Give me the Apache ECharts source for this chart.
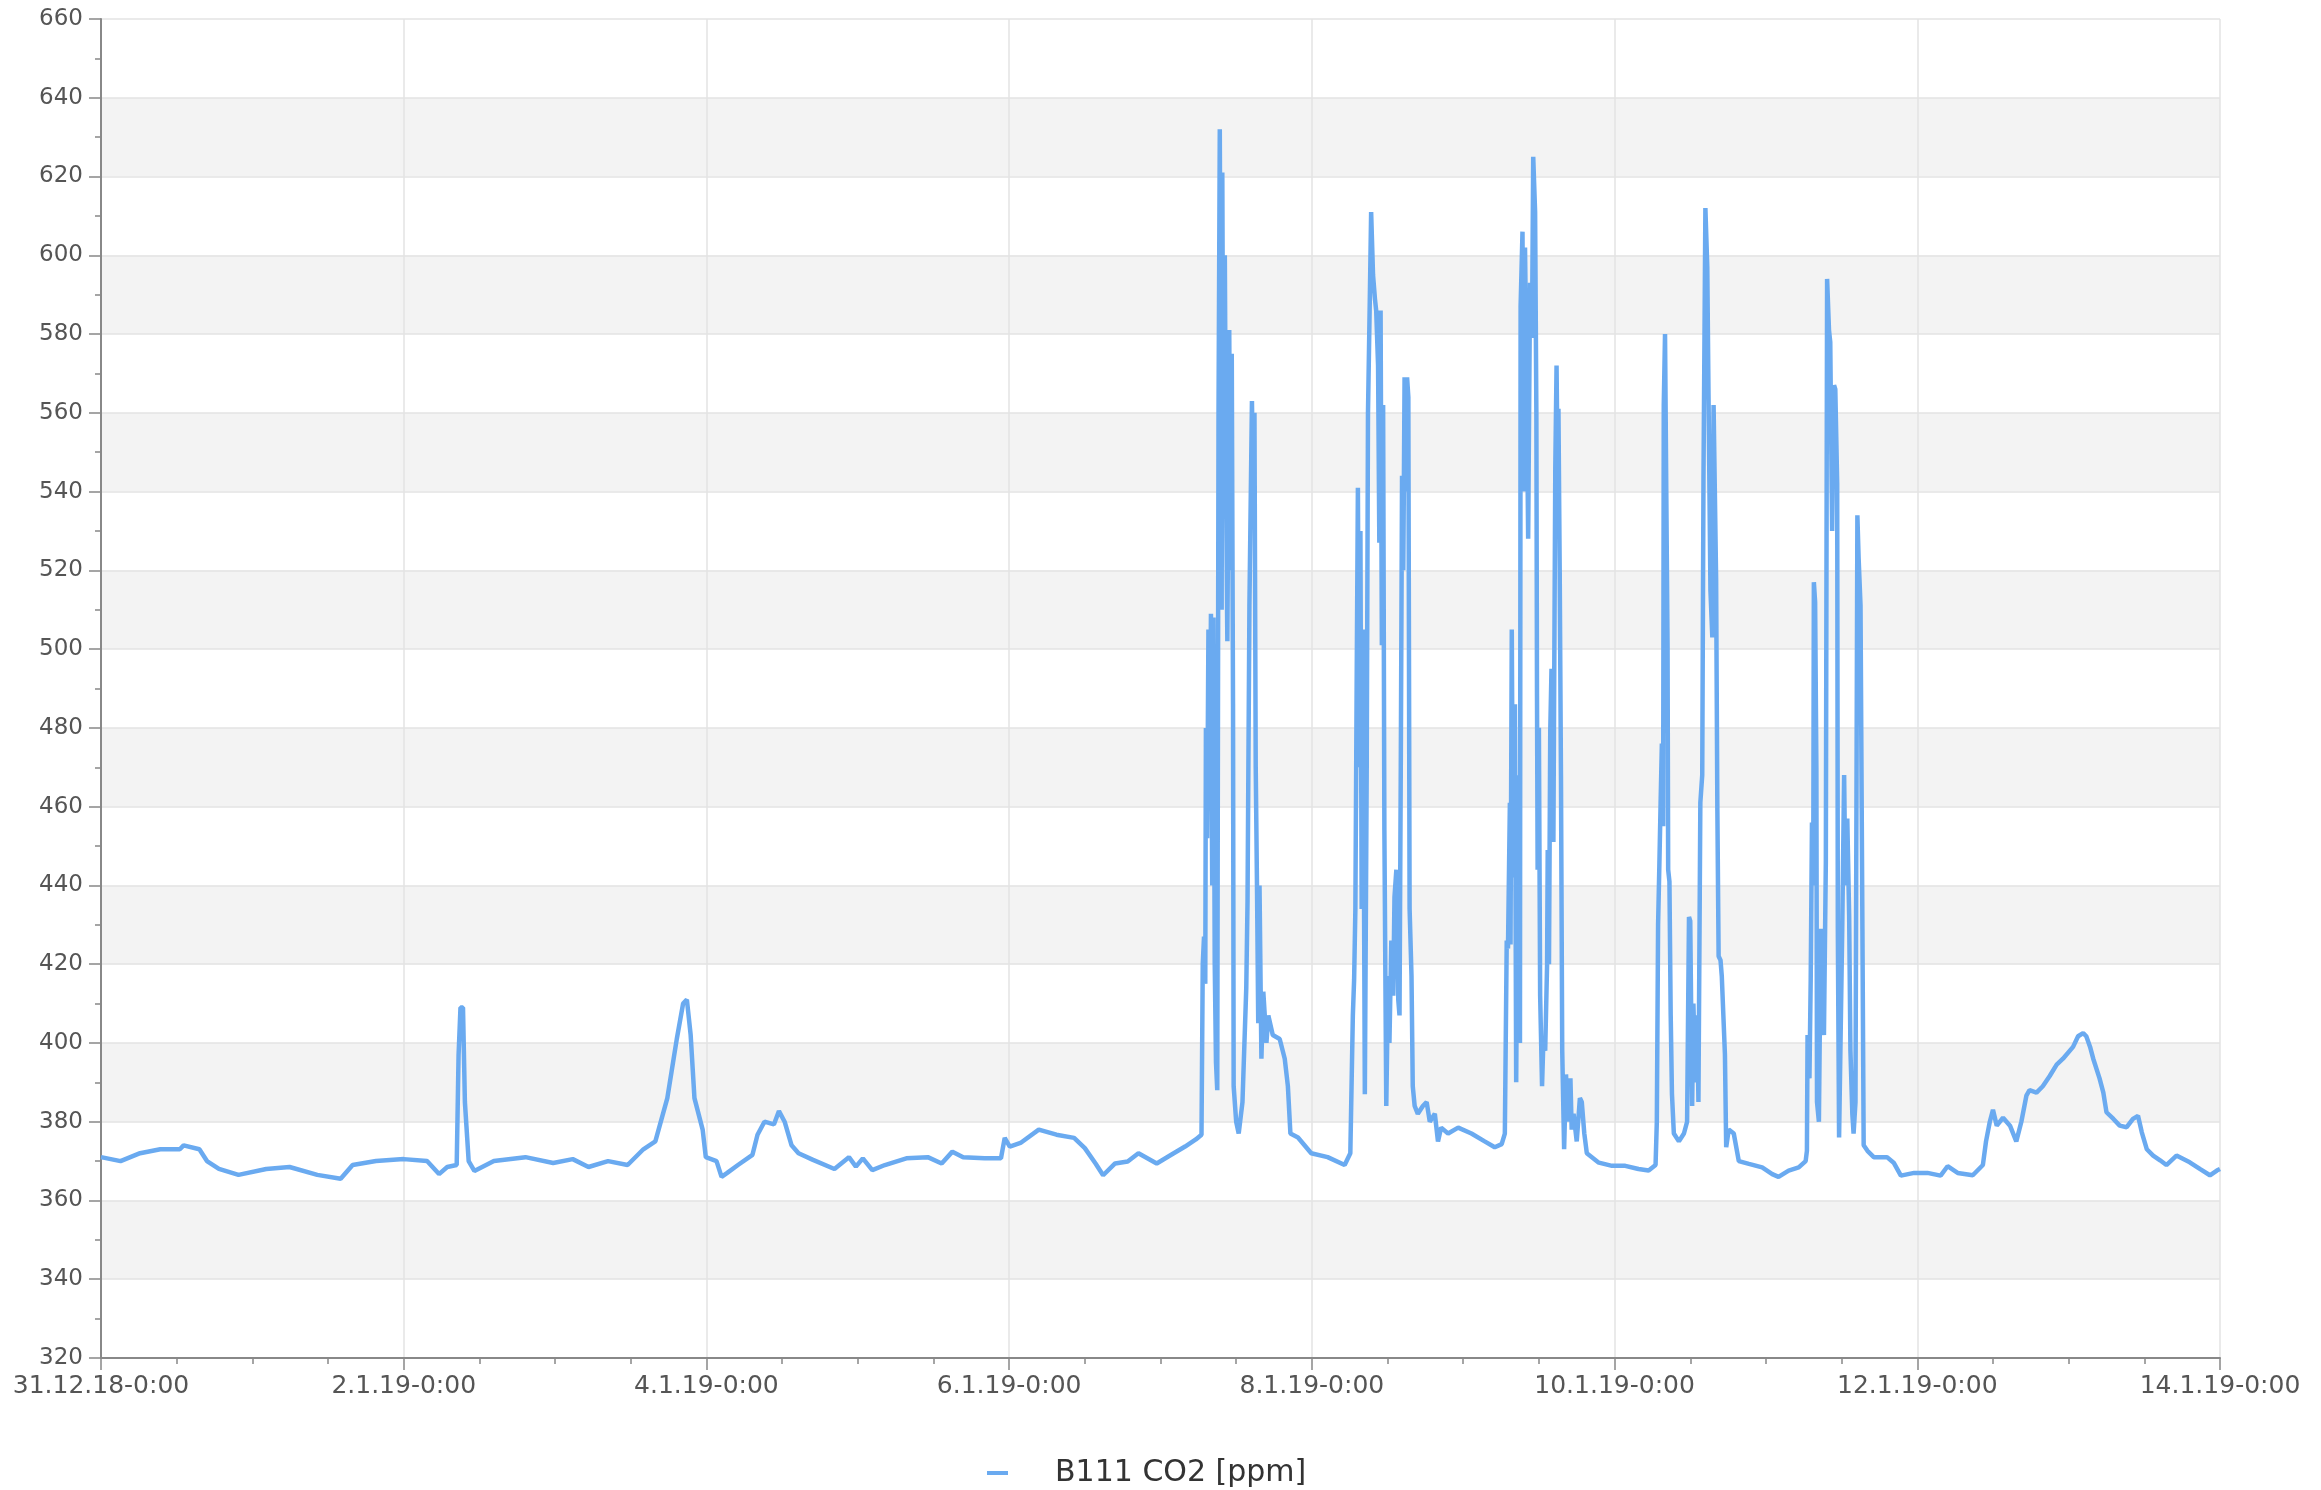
<!DOCTYPE html>
<html>
<head>
<meta charset="utf-8">
<script src="https://cdn.jsdelivr.net/npm/echarts@6/dist/echarts.min.js"></script>
<style>
html,body{margin:0;padding:0;background:#fff;}
#chart{width:2321px;height:1490px;}
</style>
</head>
<body>
<div id="chart"></div>
<script>
// Hours since 31.12.18 0:00
const hours = [
0,3.1,6.2,9.4,12.5,13.1,15.6,16.8,18.7,21.8,26.2,29.9,34.3,38,39.9,43.6,48,51.7,53.6,54.9,56.4,56.7,57.0,57.4,57.7,58.3,59.2,62.3,67.3,71.7,74.8,77.3,80.4,83.5,86,87.9,89.8,90.7,91.3,92.3,92.9,93.5,94.1,95.4,
95.9,97.6,98.4,99.3,101,103.3,104.1,105.2,106.7,107.5,108.4,109.5,110.6,112.9,116.3,118.6,119.7,120.8,122.3,124.3,127.7,131.1,133.3,135,136.7,140.1,142.7,143.3,144.1,145.8,148.7,151.5,154.3,156,157.7,158.9,160.8,162.8,164.5,167.4,169.7,171.9,173.6,174.5,
174.7,174.9,175.1,175.2,175.4,175.6,175.8,176,176.2,176.4,176.6,176.8,177,177.2,177.4,177.7,177.8,178,178.2,178.4,178.6,178.9,179.1,179.3,179.5,179.6,180,180.4,181,181.6,181.8,182.1,182.5,182.7,182.9,183.1,183.3,183.5,183.7,184,184.3,184.8,185.1,185.8,186.9,187.7,188.2,188.6,189.8,191.9,194.5,197.2,198.1,
198.5,198.7,198.9,199.1,199.3,199.5,199.7,199.9,200.1,200.4,200.7,200.9,201.2,
201.4,201.7,202,202.2,202.5,202.7,202.9,203.1,203.3,203.5,203.8,204.1,204.3,204.6,204.9,205.1,205.4,205.7,205.9,206.1,206.3,206.5,206.7,206.9,207.1,207.3,207.5,207.8,208,208.3,208.8,209.6,210.2,210.7,211.5,212,212.5,213.6,215.2,217.3,219.4,221,222.1,222.6,
222.9,223.1,223.4,223.5,223.7,223.9,224.2,224.4,224.7,225,225.1,225.4,225.6,
225.8,226.1,226.3,226.6,226.9,227.1,227.4,227.6,227.7,227.8,228,228.2,228.5,228.7,229,229.3,229.4,229.6,229.8,230,230.3,230.6,230.8,231,231.1,231.3,231.5,231.7,232,232.3,232.6,233,233.2,233.5,234,234.5,234.8,235.2,235.6,237.5,239.6,241.7,243.8,
245.4,246.5,246.7,246.9,247.1,247.3,247.5,247.7,247.8,248.0,248.2,248.4,248.5,248.7,248.9,249.1,249.4,250.2,251,251.5,251.8,252,252.3,252.5,252.8,253.1,253.3,253.6,253.9,254.1,254.4,254.7,254.9,255.2,255.5,255.7,255.9,256.1,256.3,256.5,256.8,257,257.5,257.7,258.1,258.9,259.7,261.3,263.4,265,266,267.6,269.2,270.3,
270.5,270.6,270.9,271.1,271.3,271.5,271.6,271.8,272,272.1,272.4,272.7,272.9,273.2,273.5,273.7,274,274.2,274.5,274.8,275,275.3,275.4,275.6,275.8,276.1,276.4,276.6,276.9,277.2,277.4,277.7,277.9,278.2,278.5,278.7,279,279.3,279.5,280.1,281.1,283.2,284.3,285.4,287.5,289.6,291.7,292.8,294.4,296.8,
298.4,298.9,299.5,300,300.6,301.6,302.7,303.7,304.5,305.3,305.8,306.9,307.9,309,310.1,311.1,312.7,313.5,314.3,314.8,315.4,315.9,316.9,317.5,318,319.1,320.1,321.2,322.2,323,323.6,324.4,325.4,326.5,327.5,329.1,331.2,332.8,334.4,335.5,336
];
// CO2 [ppm]
const co2 = [
371,370,372,373,373,374,373,370,368,366.5,368,368.5,366.5,365.5,369,370,370.5,370,366.7,368.5,369,397,409,409,385,370,367.5,370,371,369.5,370.5,368.5,370,369,373,375,386,395,401,410,411,402,386,378,
371,370,366,367,369,371.6,376.7,380,379.3,382.7,380,374,372,370.3,368,371,368.6,370.7,367.7,369,370.7,371,369.4,372.4,371,370.7,370.7,375.9,373.7,374.6,378,376.7,375.9,373.3,369.4,366.4,369.4,369.9,372,369.4,371.6,373.7,375.5,376.7,
420,427,415,480,452,505,470,509,440,508,420,395,388,560,632,510,621,534,600,540,502,581,520,575,486,389,380,377,385,414,436,511,563,540,560,470,440,405,440,396,413,400,407,402,401,396,389,377,376,372,371,369,372,
407,416,434,490,541,470,530,434,505,387,470,560,590,
611,595,589,586,572,527,586,501,562,454,384,417,400,426,412,437,444,411,407,470,544,520,569,540,569,564,434,417,389,384,382,384,385,380,382,375,378.5,377,378.5,377,375,373.5,374.3,377,
426,424,461,425,505,442,486,390,468,400,587,606,540,
602,562,528,593,579,625,611,560,488,444,480,412,389,400,398,420,449,420,479,495,451,546,572,540,561,520,468,398,373,392,380,391,378,382,375,386,385,377,372,369.6,368.8,368.8,368,
367.6,369,380,430,445,461,476,455,562,580,540,501,444,441,407,387,377,375,377,380,432,431,384,410,390,407,385,461,468,544,612,597,564,515,503,562,540,518,459,422,421,417,397,373.5,378,377,370,369.3,368.4,366.7,366,367.6,368.4,370,
372.6,402,391,416,456,440,517,512,470,385,380,429,429,402,446,594,581,578,530,567,566,542,429,376,376,429,468,440,457,432,398,382,377,385,534,523,511,429,374,372.6,371,371,369.5,366.3,367,367,366.3,368.7,367,366.4,
369,375,380,383,379,381,379,375,380,386.6,388,387.4,389,391.6,394.5,396,399,401.7,402.5,401.7,399,396,391,387.4,382.4,380.7,379,378.6,380.7,381.5,377.3,373,371.4,370.2,369,371.4,369.7,368,366.4,367.6,368
];
const seriesName = 'B111 CO2 [ppm]';
const startDateUTC = Date.UTC(2018, 11, 31, 0, 0);

const data = hours.map((h, i) => [h, co2[i]]);

function fmtHour(h) {
  const d = new Date(startDateUTC + h * 3600000);
  const yy = String(d.getUTCFullYear()).slice(2);
  const mm = String(d.getUTCMinutes()).padStart(2, '0');
  return d.getUTCDate() + '.' + (d.getUTCMonth() + 1) + '.' + yy + '-' + d.getUTCHours() + ':' + mm;
}

const chart = echarts.init(document.getElementById('chart'), null, {renderer: 'canvas'});
const FONT = 'DejaVu Sans';
chart.setOption({
  animation: false,
  backgroundColor: '#ffffff',
  grid: {left: 101, right: 101, top: 19, bottom: 132, containLabel: false},
  xAxis: {
    type: 'value',
    min: 0, max: 336, interval: 48,
    minorTick: {show: true, splitNumber: 4, length: 6, lineStyle: {color: '#888', width: 1.5}},
    axisLine: {show: true, lineStyle: {color: '#888', width: 2}},
    axisTick: {show: true, length: 12, lineStyle: {color: '#888', width: 1.5}},
    axisLabel: {
      formatter: v => fmtHour(v),
      color: '#555', fontFamily: FONT, fontSize: 25, margin: 16,
      showMinLabel: true, showMaxLabel: true
    },
    splitLine: {show: true, lineStyle: {color: '#e3e3e3', width: 1.5}}
  },
  yAxis: {
    type: 'value',
    min: 320, max: 660, interval: 20,
    minorTick: {show: true, splitNumber: 2, length: 6, lineStyle: {color: '#888', width: 1.5}},
    axisLine: {show: true, lineStyle: {color: '#888', width: 2}},
    axisTick: {show: true, length: 12, lineStyle: {color: '#888', width: 1.5}},
    axisLabel: {color: '#555', fontFamily: FONT, fontSize: 23, margin: 18},
    splitLine: {show: true, lineStyle: {color: '#e3e3e3', width: 1.5}},
    splitArea: {show: true, areaStyle: {color: ['#ffffff', '#f3f3f3']}}
  },
  legend: {
    show: true,
    left: 982, top: 1453,
    icon: 'rect',
    itemWidth: 21, itemHeight: 4,
    textStyle: {color: '#333', fontFamily: FONT, fontSize: 30, padding: [0, 0, 0, 42]},
    data: [seriesName]
  },
  series: [{
    name: seriesName,
    type: 'line',
    data: data,
    showSymbol: false,
    symbol: 'none',
    color: '#6aaaf0',
    lineStyle: {color: '#6aaaf0', width: 4.5},
    clip: true
  }]
});
</script>
</body>
</html>
